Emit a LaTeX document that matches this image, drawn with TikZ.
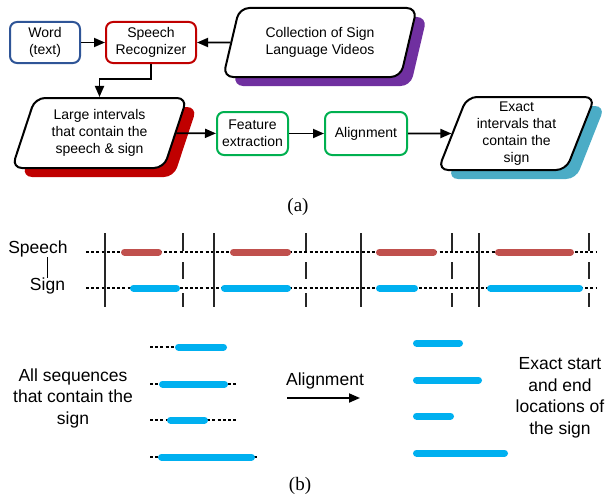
\documentclass[tikz,border=0pt]{standalone}
\usepackage{fontspec}
\setmainfont{Liberation Sans}
\newfontfamily\capfont{Liberation Serif}
\usepackage{xcolor}
\usetikzlibrary{arrows.meta,shapes.geometric,shadows}

\definecolor{wordblue}{HTML}{2F5597}
\definecolor{recred}{HTML}{C00000}
\definecolor{featgreen}{HTML}{00B050}
\definecolor{vidpurple}{HTML}{7030A0}
\definecolor{outteal}{HTML}{4BACC6}
\definecolor{speechred}{HTML}{C0504D}
\definecolor{signblue}{HTML}{00B0F0}

\begin{document}
\begin{tikzpicture}[x=1pt,y=-1pt,
  box/.style={draw,line width=2pt,rounded corners=7pt,align=center,inner sep=0pt,
    minimum height=41pt,font=\fontsize{14}{17}\selectfont},
  para/.style={draw,line width=2pt,fill=white,rounded corners=10pt,trapezium,
    trapezium stretches=true,trapezium left angle=70,trapezium right angle=110,
    align=center,inner sep=0pt,font=\fontsize{14}{17}\selectfont},
  shadowed/.style={drop shadow={shadow xshift=10pt,shadow yshift=-9pt,fill=#1,opacity=1}},
  arr/.style={-{Triangle[length=11pt,width=9pt]},line width=1.8pt},
  dots/.style={dash pattern=on 3pt off 2.2pt,line width=1.4pt},
  bar/.style={line width=7pt,line cap=round},
  tickline/.style={line width=1.3pt,black!85},
  lbl/.style={font=\fontsize{17.5}{21.5}\selectfont,align=center,inner sep=0pt},
  captext/.style={font=\capfont\fontsize{19}{22}\selectfont}]
  \useasboundingbox (0,0) rectangle (607,495);

  % (a) pipeline
  \node[box,draw=wordblue,minimum width=70pt] (word) at (45,42.5) {Word\\(text)};
  \node[box,draw=recred,minimum width=90pt] (recog) at (151,42.5) {Speech\\Recognizer};
  \node[para,shadowed=vidpurple,minimum width=194pt,minimum height=69pt] (videos) at (320,42.5)
    {Collection of Sign\\Language Videos};
  \node[para,shadowed=recred,minimum width=175pt,minimum height=70pt] (large) at (99.5,133)
    {Large intervals\\that contain the\\speech \& sign};
  \node[box,draw=featgreen,minimum width=71pt,minimum height=43pt] (feat) at (252.5,133.5)
    {Feature\\extraction};
  \node[box,draw=featgreen,minimum width=82pt,minimum height=43pt] (align) at (366,133.5)
    {Alignment};
  \node[para,shadowed=outteal,minimum width=157pt,minimum height=73pt] (exact) at (516.5,133.5)
    {Exact\\intervals that\\contain the\\sign};

  \draw[arr] (word) -- (recog);
  \draw[arr] (videos) -- (recog);
  \draw[arr] (recog.south) -- ++(0,15) -| (large.north);
  \draw[arr] (large) -- (feat);
  \draw[arr] (feat) -- (align);
  \draw[arr] (align) -- (exact);

  \node[captext] (capa) at (298,207) {(a)};

  % (b) speech vs sign timelines
  \node[lbl] (lblspeech) at (38,249) {Speech};
  \node[lbl] (lblsign) at (47.5,286) {Sign};
  \draw[line width=0.9pt] (lblsign.north |- lblspeech.south) -- (lblsign.north);

  \draw[dots] (86,252) -- (597,252);
  \draw[dots] (86,288) -- (597,288);
  \foreach \x in {105,214,361,479}
    \draw[tickline] (\x,233) -- (\x,307);
  \foreach \x in {183,306,452,589}
    \draw[tickline] (\x,233) -- (\x,251) (\x,262) -- (\x,279) (\x,293) -- (\x,307);
  \foreach \a/\b in {121/162,230/291,376/437,495/574}
    \draw[bar,speechred] (\a+3.5,252) -- (\b-3.5,252);
  \foreach \a/\b in {130/180,221/291,376/418,487/583}
    \draw[bar,signblue] (\a+3.5,288) -- (\b-3.5,288);

  % before / after alignment
  \node[lbl] (allseq) at (73,398) {All sequences\\that contain the\\sign};
  \foreach \y/\e/\a/\b in {347/175/175/227,384/238/159/228,420/238/167/208,457/258/158/255}{
    \draw[dots] (150,\y) -- (\e,\y);
    \draw[bar,signblue] (\a+3.5,\y) -- (\b-3.5,\y);
  }
  \node[lbl] (alignlbl) at (325,381) {Alignment};
  \coordinate (alstart) at (287,398);
  \coordinate (alend) at (360,398);
  \draw[arr] (alstart) -- (alend);
  \foreach \y/\b in {343/463,380/482,416/454,453/508}
    \draw[bar,signblue] (416.5,\y) -- (\b-3.5,\y);
  \node[lbl] (exactloc) at (560,398) {Exact start\\and end\\locations of\\the sign};

  \node[captext] (capb) at (300,486) {(b)};
\end{tikzpicture}
\end{document}
